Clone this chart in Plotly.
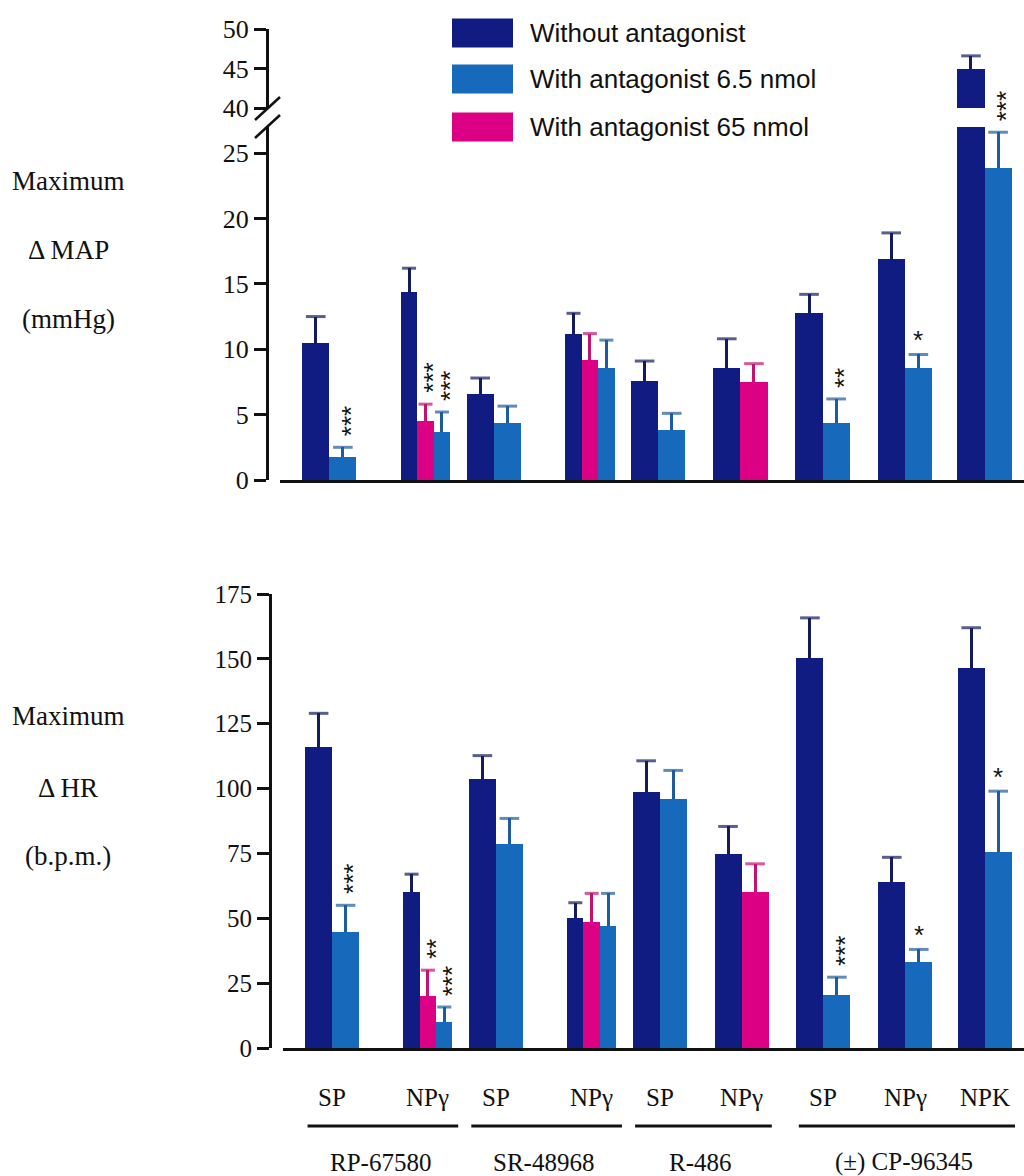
import plotly.graph_objects as go

# ---------------- data ----------------
categories = ["SP", "NPγ", "SP", "NPγ", "SP", "NPγ", "SP", "NPγ", "NPK"]
antagonists = ["RP-67580", "SR-48968", "R-486", "(±) CP-96345"]
antagonist_members = [[0, 1], [2, 3], [4, 5], [6, 7, 8]]
series_names = ["Without antagonist", "With antagonist 6.5 nmol", "With antagonist 65 nmol"]

# Maximum change in mean arterial pressure (mmHg), mean and s.e.m.
map_without = [10.5, 14.4, 6.6, 11.2, 7.55, 8.6, 12.8, 16.9, 44.9]
map_without_sem = [2.0, 1.8, 1.2, 1.55, 1.55, 2.2, 1.4, 2.0, 1.7]
map_low = [1.75, 3.7, 4.35, 8.55, 3.8, None, 4.35, 8.6, 23.9]
map_low_sem = [0.75, 1.5, 1.3, 2.15, 1.3, None, 1.85, 1.0, 2.7]
map_high = [None, 4.5, None, 9.2, None, 7.5, None, None, None]
map_high_sem = [None, 1.3, None, 2.0, None, 1.4, None, None, None]
map_low_sig = ["***", "***", "", "", "", "", "**", "*", "***"]
map_high_sig = ["", "***", "", "", "", "", "", "", ""]

# Maximum change in heart rate (b.p.m.), mean and s.e.m.
hr_without = [116, 60, 103.8, 50.3, 98.5, 74.6, 150.4, 63.8, 146.5]
hr_without_sem = [13, 7, 8.9, 5.7, 12.2, 10.8, 15.4, 9.7, 15.5]
hr_low = [44.6, 10, 78.8, 47, 95.8, None, 20.4, 33, 75.4]
hr_low_sem = [10.4, 5.8, 9.7, 12.6, 11.2, None, 6.9, 5, 23.6]
hr_high = [None, 20, None, 48.5, None, 60, None, None, None]
hr_high_sem = [None, 10, None, 11.1, None, 11, None, None, None]
hr_low_sig = ["***", "***", "", "", "", "", "***", "*", "*"]
hr_high_sig = ["", "**", "", "", "", "", "", "", ""]

map_ticks_low = [0, 5, 10, 15, 20, 25]
map_ticks_high = [40, 45, 50]
hr_ticks = [0, 25, 50, 75, 100, 125, 150, 175]

# ---------------- layout helpers ----------------
W, H = 1024, 1176


def px(x):
    return x / W


def py(y):
    return 1 - y / H


cat_pos = [0, 1.17, 2, 3.17, 4, 5, 6, 7, 7.97]
X_RANGE = [-0.6, 8.45]
SLOT_W = {1: 0.33, 2: 0.33, 3: 0.2}

DARK = "#111c82"
LIGHT = "#1769bb"
PINK = "#dc0084"
DARK_ERR = "#141c5c"
LIGHT_ERR = "#1f5c9e"
PINK_ERR = "#c4126f"
INK = "#111111"
SERIF = "Liberation Serif"
SANS = "Liberation Sans"


def geometry(series_list):
    """Offset and width of every bar, ordered inside each category group."""
    n = len(categories)
    geo = [[None] * n for _ in series_list]
    for i in range(n):
        present = [k for k, s in enumerate(series_list) if s[i] is not None]
        w = SLOT_W[len(present)]
        start = -w * len(present) / 2
        for j, k in enumerate(present):
            geo[k][i] = (start + j * w, w)
    return geo


fig = go.Figure()
annotations = []


def add_panel(values, sems, sigs, colors, err_colors, xaxis, yaxes, xref, yref):
    geo = geometry(values)
    for k, (vals, sem) in enumerate(zip(values, sems)):
        idx = [i for i, v in enumerate(vals) if v is not None]
        centers = [cat_pos[i] + geo[k][i][0] + geo[k][i][1] / 2 for i in idx]
        tops = [vals[i] + sem[i] for i in idx]
        cap = [14 if geo[k][i][1] > 0.3 else 10 for i in idx]
        for ya in yaxes:
            fig.add_trace(go.Bar(
                x=[cat_pos[i] for i in idx],
                y=[vals[i] for i in idx],
                offset=[geo[k][i][0] for i in idx],
                width=[geo[k][i][1] for i in idx],
                marker=dict(color=colors[k], line=dict(width=0)),
                error_y=dict(type="data", symmetric=False,
                             array=[sem[i] for i in idx],
                             arrayminus=[0] * len(idx),
                             color=err_colors[k], thickness=3, width=0),
                xaxis=xaxis, yaxis=ya, showlegend=False, hoverinfo="skip",
            ))
            # caps on the s.e.m. bars
            fig.add_trace(go.Scatter(
                x=centers, y=tops, mode="markers",
                marker=dict(symbol="line-ew", size=cap,
                            line=dict(color=err_colors[k], width=3)),
                xaxis=xaxis, yaxis=ya, showlegend=False, hoverinfo="skip",
            ))
        sig = sigs[k]
        if sig is None:
            continue
        for n_i, i in enumerate(idx):
            if not sig[i]:
                continue
            multi = len(sig[i]) > 1
            annotations.append(dict(
                x=centers[n_i], y=tops[n_i], xref=xref, yref=yref,
                text=sig[i], showarrow=False, yanchor="bottom", xanchor="center",
                textangle=-90 if multi else 0,
                xshift=8 if multi else 0,
                yshift=9 if multi else -3,
                font=dict(family=SANS, size=26, color=INK),
            ))


# series drawing order inside a group: without, 65 nmol, 6.5 nmol
add_panel([map_without, map_high, map_low],
          [map_without_sem, map_high_sem, map_low_sem],
          [None, map_high_sig, map_low_sig],
          [DARK, PINK, LIGHT], [DARK_ERR, PINK_ERR, LIGHT_ERR],
          "x", ["y", "y3"], "x", "y")
add_panel([hr_without, hr_high, hr_low],
          [hr_without_sem, hr_high_sem, hr_low_sem],
          [None, hr_high_sig, hr_low_sig],
          [DARK, PINK, LIGHT], [DARK_ERR, PINK_ERR, LIGHT_ERR],
          "x2", ["y2"], "x2", "y2")

# y-axis titles
for txt, y in [("Maximum", 181), ("Δ MAP", 250), ("(mmHg)", 319),
               ("Maximum", 716), ("Δ HR", 788), ("(b.p.m.)", 856)]:
    annotations.append(dict(x=px(68), y=py(y), xref="paper", yref="paper",
                            text=txt, showarrow=False, xanchor="center", yanchor="middle",
                            font=dict(family=SERIF, size=27, color=INK)))

# category labels under the heart-rate panel
for i, c in enumerate(categories):
    annotations.append(dict(x=cat_pos[i], y=py(1097), xref="x2", yref="paper",
                            text=c, showarrow=False, xanchor="center", yanchor="middle",
                            font=dict(family=SERIF, size=25, color=INK)))

shapes = []
# antagonist groups: underline + name
for name, members in zip(antagonists, antagonist_members):
    x0 = cat_pos[members[0]] - 0.3
    x1 = min(cat_pos[members[-1]] + 0.37, X_RANGE[1])
    shapes.append(dict(type="line", xref="x2", yref="paper", x0=x0, x1=x1,
                       y0=py(1126), y1=py(1126), line=dict(color=INK, width=3)))
    mid = sum(cat_pos[m] for m in members) / len(members)
    annotations.append(dict(x=mid, y=py(1162), xref="x2", yref="paper",
                            text=name, showarrow=False, xanchor="center", yanchor="middle",
                            font=dict(family=SERIF, size=25, color=INK)))

# axis break marks on the pressure axis
for y_top in (97, 115):
    shapes.append(dict(type="line", xref="paper", yref="paper",
                       x0=px(255), y0=py(y_top + 23), x1=px(280), y1=py(y_top),
                       line=dict(color=INK, width=2.5)))

# legend swatches and labels
for name, color, yc in zip(series_names, [DARK, LIGHT, PINK], [33, 79, 127]):
    shapes.append(dict(type="rect", xref="paper", yref="paper",
                       x0=px(452), x1=px(513), y0=py(yc - 14.5), y1=py(yc + 14.5),
                       fillcolor=color, line=dict(width=0)))
    annotations.append(dict(x=px(528), y=py(yc), xref="paper", yref="paper",
                            text=name, showarrow=False, xanchor="left", yanchor="middle",
                            font=dict(family=SANS, size=26, color=INK)))

axis_common = dict(showgrid=False, zeroline=False, showline=True, linecolor=INK,
                   linewidth=3, ticks="outside", tickcolor=INK, tickwidth=2.5,
                   ticklen=12, automargin=False,
                   tickfont=dict(family=SERIF, size=26, color=INK))
xaxis_common = dict(showgrid=False, zeroline=False, showline=True, linecolor=INK,
                    linewidth=3, ticks="", showticklabels=False, range=X_RANGE,
                    automargin=False, fixedrange=True)

fig.update_layout(
    width=W, height=H,
    margin=dict(l=0, r=0, t=0, b=0, pad=0, autoexpand=False),
    paper_bgcolor="white", plot_bgcolor="white",
    barmode="overlay", bargap=0,
    showlegend=False,
    xaxis=dict(domain=[px(280), 1], anchor="y", **xaxis_common),
    yaxis=dict(domain=[py(480), py(127)], range=[0, 27], anchor="free",
               position=px(267), tickvals=map_ticks_low, **axis_common),
    yaxis3=dict(domain=[py(108), py(29)], range=[40, 50], anchor="free",
                position=px(267), tickvals=map_ticks_high, **axis_common),
    xaxis2=dict(domain=[px(283), 1], anchor="y2", **xaxis_common),
    yaxis2=dict(domain=[py(1048), py(594)], range=[0, 175], anchor="free",
                position=px(270), tickvals=hr_ticks,
                **{**axis_common, "tickfont": dict(family=SERIF, size=25, color=INK)}),
    annotations=annotations,
    shapes=shapes,
)

fig.write_html("out.html")
